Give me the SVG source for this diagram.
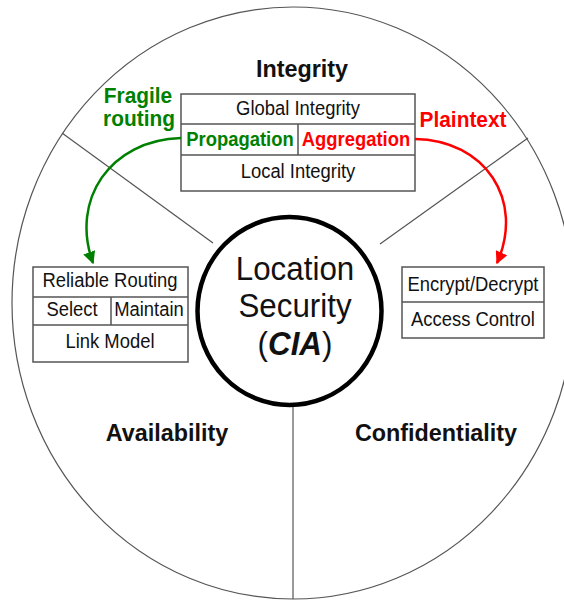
<svg xmlns="http://www.w3.org/2000/svg" width="564" height="601" viewBox="0 0 564 601">
<style>
text{font-family:"Liberation Sans",Arial,sans-serif;text-anchor:middle}
.t{font-size:19.4px;fill:#111}
.b{font-weight:bold}
.title{font-size:24.6px;font-weight:bold;fill:#111}
.big{font-size:33px;fill:#111}
.ann{font-size:22px;font-weight:bold}
.box{fill:#fff;stroke:#555;stroke-width:1.5}
.div{stroke:#555;stroke-width:1.5}
.rad{stroke:#555;stroke-width:1.2;fill:none}
</style>
<defs>
<marker id="ag" viewBox="0 0 10 10" refX="9" refY="5" markerWidth="5" markerHeight="5" orient="auto" markerUnits="strokeWidth"><path d="M0,0 L10,5 L0,10 z" fill="#008000"/></marker>
<marker id="ar" viewBox="0 0 10 10" refX="9" refY="5" markerWidth="5" markerHeight="5" orient="auto" markerUnits="strokeWidth"><path d="M0,0 L10,5 L0,10 z" fill="#ff0000"/></marker>
</defs>
<rect width="564" height="601" fill="#fff"/>
<g id="outer">
<ellipse cx="293" cy="303" rx="281" ry="296" fill="none" stroke="#555" stroke-width="1.2"/>
<line class="rad" x1="62" y1="133" x2="213" y2="243"/>
<line class="rad" x1="528" y1="138" x2="380" y2="244"/>
<line class="rad" x1="293" y1="405" x2="293" y2="599"/>
</g>
<g id="labels">
<text class="title" transform="translate(302,77) scale(0.95,1)">Integrity</text>
<text class="title" transform="translate(167,441) scale(0.95,1)">Availability</text>
<text class="title" transform="translate(436,441) scale(0.95,1)">Confidentiality</text>
</g>
<g id="center">
<ellipse cx="289.5" cy="311" rx="92" ry="94" fill="#fff" stroke="#000" stroke-width="4.5"/>
<text class="big" transform="translate(295,280) scale(0.95,1)">Location</text>
<text class="big" transform="translate(295,317) scale(0.95,1)">Security</text>
<text class="big" transform="translate(295,355) scale(0.95,1)">(<tspan font-weight="bold" font-style="italic">CIA</tspan>)</text>
</g>
<g id="integrity-box">
<rect class="box" x="181" y="94" width="234" height="97"/>
<line class="div" x1="181" y1="124" x2="415" y2="124"/>
<line class="div" x1="181" y1="155" x2="415" y2="155"/>
<line class="div" x1="298" y1="124" x2="298" y2="155"/>
<text class="t" transform="translate(298,115) scale(0.95,1)">Global Integrity</text>
<text class="t b" transform="translate(240,146) scale(0.95,1)" style="fill:#008000">Propagation</text>
<text class="t b" transform="translate(356,146) scale(0.95,1)" style="fill:#ff0000">Aggregation</text>
<text class="t" transform="translate(298,178) scale(0.95,1)">Local Integrity</text>
</g>
<g id="availability-box">
<rect class="box" x="33" y="267" width="155" height="95"/>
<line class="div" x1="33" y1="297" x2="188" y2="297"/>
<line class="div" x1="33" y1="325" x2="188" y2="325"/>
<line class="div" x1="111" y1="297" x2="111" y2="325"/>
<text class="t" transform="translate(110,287) scale(0.95,1)">Reliable Routing</text>
<text class="t" transform="translate(72,316) scale(0.95,1)">Select</text>
<text class="t" transform="translate(149,316) scale(0.95,1)">Maintain</text>
<text class="t" transform="translate(110,348) scale(0.95,1)">Link Model</text>
</g>
<g id="confidentiality-box">
<rect class="box" x="402" y="267" width="142" height="71"/>
<line class="div" x1="402" y1="302" x2="544" y2="302"/>
<text class="t" transform="translate(473,291) scale(0.95,1)">Encrypt/Decrypt</text>
<text class="t" transform="translate(473,326) scale(0.95,1)">Access Control</text>
</g>
<g id="annotations">
<text class="ann" transform="translate(138,103) scale(0.95,1)" style="fill:#008000">Fragile</text>
<text class="ann" transform="translate(139,126) scale(0.95,1)" style="fill:#008000">routing</text>
<text class="ann" transform="translate(463,127) scale(0.95,1)" style="fill:#ff0000">Plaintext</text>
</g>
<g id="connectors">
<path d="M181,138 C110,140 70,200 93,263" fill="none" stroke="#008000" stroke-width="2.5" marker-end="url(#ag)"/>
<path d="M415,139 C485,140 525,200 497,263" fill="none" stroke="#ff0000" stroke-width="2.5" marker-end="url(#ar)"/>
</g>
</svg>
